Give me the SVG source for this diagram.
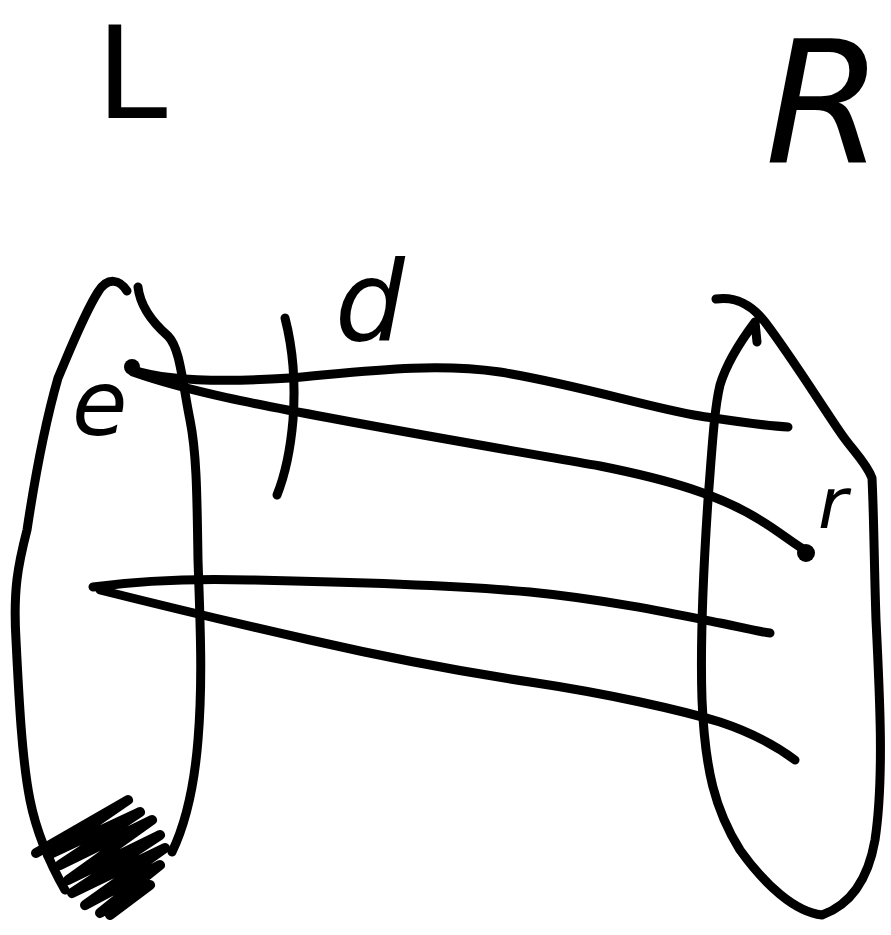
<svg xmlns="http://www.w3.org/2000/svg" width="891" height="935" viewBox="0 0 891 935">
<style>
.s{fill:none;stroke:#000;stroke-width:9;stroke-linecap:round;stroke-linejoin:round}
.t{font-family:"DejaVu Sans","Liberation Sans",sans-serif;fill:#000}
</style>
<rect width="891" height="935" fill="#fff"/>
<g id="L-set">
<path class="s" d="M127,291 C120,280 108,276 98,292 C85,312 72,345 58,378 C46,420 36,470 27,530 C18,565 13,590 16,640 C19,700 22,760 30,800 C36,830 48,860 65,890"/>
<path class="s" d="M138,287 C140,305 152,322 168,336 C180,348 182,380 190,420 C197,455 197,500 198,560 C200,620 203,680 198,740 C194,790 185,825 172,852"/>
<path class="s" style="stroke-width:10" d="M36,853 L128,800 L48,855 L140,812 L60,865 L152,820 L68,880 L160,835 L72,893 L165,848 L85,905 L160,865 L100,913 L150,885 L110,915"/>
<text class="t" x="96" y="118" font-size="128">L</text>
<text class="t" x="72" y="435" font-size="90" font-style="italic">e</text>
</g>
<g id="R-set">
<path class="s" d="M716,299 C735,296 752,305 765,322 C790,355 815,395 840,432 C852,450 866,462 872,478 C874,520 874,560 876,620 C880,700 884,780 875,840 C868,880 850,905 822,915 C795,912 765,885 740,850 C715,810 705,770 702,700 C700,640 704,560 708,500 C712,450 714,410 720,385 C726,365 740,342 755,322 L757,342"/>
<text class="t" x="765" y="162" font-size="170" font-style="italic">R</text>
<text class="t" x="818" y="528" font-size="72" font-style="italic">r</text>
</g>
<g id="d-label">
<path class="s" d="M285,318 C292,345 296,380 293,420 C290,455 283,480 277,495"/>
<text class="t" x="335" y="340" font-size="110" font-style="italic">d</text>
</g>
<g id="connectors">
<path class="s" d="M133,370 C170,382 230,382 290,378 C360,372 430,362 500,372 C580,385 650,408 700,416 C740,422 765,426 788,427"/>
<path class="s" d="M133,372 C190,392 260,405 330,418 C420,435 520,452 600,466 C670,480 720,495 760,520 C780,532 795,545 805,550"/>
<path class="s" d="M93,587 C130,582 180,578 250,580 C350,582 450,585 530,592 C610,600 680,615 720,623 C745,628 760,632 770,633"/>
<path class="s" d="M100,590 C160,605 230,622 310,640 C380,656 450,670 530,682 C610,694 680,710 720,722 C750,732 775,745 795,760"/>
<circle cx="132" cy="367" r="8"/>
<circle cx="806" cy="553" r="9"/>
</g>
</svg>
